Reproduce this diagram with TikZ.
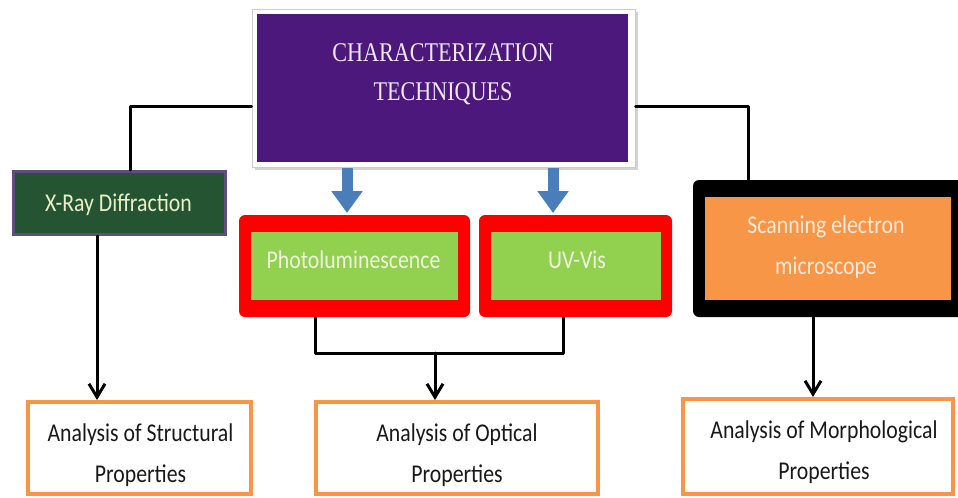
\documentclass[tikz,border=0pt]{standalone}
\usepackage{fontspec}
\usetikzlibrary{arrows.meta,shadows}
\newfontfamily\bodyfont[FakeStretch=0.85]{Carlito}
\newfontfamily\headfont[FakeStretch=0.82]{Liberation Serif}
\definecolor{techpurple}{RGB}{76,24,124}
\definecolor{xrdgreen}{RGB}{36,84,50}
\definecolor{xrdedge}{RGB}{96,76,128}
\definecolor{leafgreen}{RGB}{146,208,80}
\definecolor{semorange}{RGB}{247,150,70}
\definecolor{arrowblue}{RGB}{74,126,187}
\definecolor{headtext}{RGB}{240,232,250}
\definecolor{paletext}{RGB}{240,245,225}
\definecolor{xrdtext}{RGB}{235,240,200}
\definecolor{semtext}{RGB}{253,233,217}

\tikzset{every picture/.style={line width=0.75pt}}

\begin{document}
\begin{tikzpicture}[x=0.75pt,y=0.75pt,yscale=-1,xscale=1,
  box/.style={rectangle, inner sep=0pt},
  frame/.style={box, rounded corners=4.5pt},
  result/.style={box, draw=semorange, line width=3pt, fill=white},
  lbl/.style={inner sep=0pt, align=center, font=\bodyfont\fontsize{19.2}{31}\selectfont},
  link/.style={line width=2.25pt, line cap=round, line join=round},
  tip/.style={-{Straight Barb[length=10pt,width=12pt]}},
  bluearrow/.style={draw=arrowblue, line width=8.25pt, -{Triangle[length=16.5pt,width=22.5pt]}}]
\clip (0,0) rectangle (958,497);

%Shape: Rectangle
\node[box, fill=white, draw=black!20, drop shadow={shadow xshift=2pt,shadow yshift=-2pt,opacity=0.35}, minimum width=287.25pt, minimum height=118.5pt] (titleframe) at (443.5,88) {};
\node[box, fill=techpurple, minimum width=278.25pt, minimum height=111pt] (title) at (442.5,88) {};

%Shape: Rectangle
\node[box, fill=xrdgreen, draw=xrdedge, line width=2.25pt, minimum width=159pt, minimum height=47.25pt] (xrd) at (119.5,203) {};

%Shape: Rounded Rect
\node[frame, fill=red, minimum width=173.25pt, minimum height=76.5pt] (plframe) at (354.5,266) {};
\node[box, fill=leafgreen, minimum width=155.25pt, minimum height=51pt] (pl) at (354.5,266) {};

%Shape: Rounded Rect
\node[frame, fill=red, minimum width=144.75pt, minimum height=76.5pt] (uvframe) at (575.5,266) {};
\node[box, fill=leafgreen, minimum width=127.5pt, minimum height=51pt] (uv) at (576,266) {};

%Shape: Rounded Rect
\node[frame, fill=black, minimum width=211.5pt, minimum height=102.75pt] (semframe) at (834,248.5) {};
\node[box, fill=semorange, minimum width=184.5pt, minimum height=77.25pt] (sem) at (828,248.5) {};

%Shape: Rectangle
\node[result, minimum width=167.25pt, minimum height=69pt] (struct) at (139.5,448) {};
\node[result, minimum width=211.5pt, minimum height=69pt] (optical) at (457,448) {};
\node[result, minimum width=202.5pt, minimum height=71.25pt] (morph) at (818,446.5) {};

% Text Node
\node[inner sep=0pt, align=center, text=headtext, font=\headfont\fontsize{20.25}{29}\selectfont] (titlelbl) at (443,74) {CHARACTERIZATION\\TECHNIQUES};
% Text Node
\node[lbl, text=xrdtext, anchor=base] (xrdlbl) at (118.5,211) {X-Ray Diffraction};
% Text Node
\node[lbl, text=paletext, anchor=base] (pllbl) at (353.5,268) {Photoluminescence};
% Text Node
\node[lbl, text=paletext, anchor=base] (uvlbl) at (577,268) {UV-Vis};
% Text Node
\node[lbl, text=semtext] (semlbl) at (826,247) {Scanning electron\\microscope};
% Text Node
\node[lbl, text=black!90] (structlbl) at (140.5,455) {Analysis of Structural\\Properties};
% Text Node
\node[lbl, text=black!90] (opticallbl) at (457,455) {Analysis of Optical\\Properties};
% Text Node
\node[lbl, text=black!90] (morphlbl) at (824,452) {Analysis of Morphological\\Properties};

\coordinate (ljoin) at (130,106);
\coordinate (rjoin) at (748,106);
\coordinate (xdown) at (97,300);
\coordinate (sdown) at (813,350);
\coordinate (plfoot) at (315,353);
\coordinate (uvfoot) at (563,353);
\coordinate (optdrop) at (435,353);
\coordinate (pltip) at (347,213);
\coordinate (uvtip) at (553,213);

%Straight Lines
\draw[link] (titleframe.west |- ljoin) -- (ljoin) -- (ljoin |- xrd.north);
%Straight Lines
\draw[link] (titleframe.east |- rjoin) -- (rjoin) -- (rjoin |- semframe.north);

%Straight Lines
\draw[bluearrow] (titleframe.south -| pltip) -- (pltip);
\draw[bluearrow] (titleframe.south -| uvtip) -- (uvtip);

%Straight Lines
\draw[link, tip] (xrd.south -| xdown) -- (xdown |- struct.north);
%Straight Lines
\draw[link] (plframe.south -| plfoot) -- (plfoot) -- (uvfoot) -- (uvframe.south -| uvfoot);
\draw[link, tip] (optdrop) -- (optdrop |- optical.north);
%Straight Lines
\draw[link, tip] (semframe.south -| sdown) -- (sdown |- morph.north);

\end{tikzpicture}
\end{document}
